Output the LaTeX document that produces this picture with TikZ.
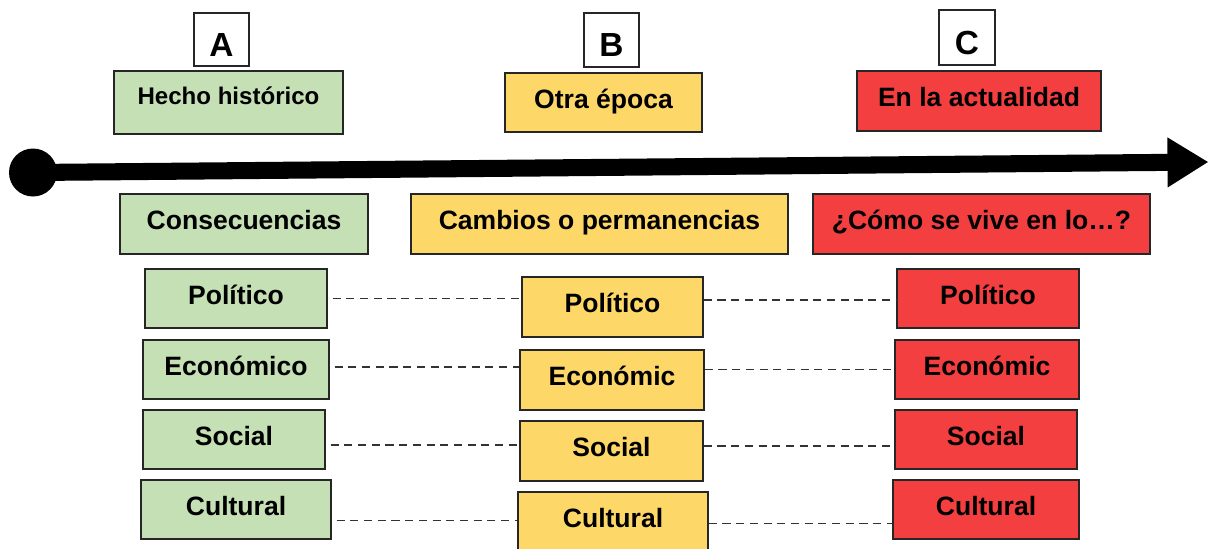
\documentclass[tikz,border=0pt]{standalone}
\usepackage{fontspec}
\setmainfont{Liberation Sans}
\usetikzlibrary{arrows.meta}

\definecolor{verde}{HTML}{C5E0B4}
\definecolor{amarillo}{HTML}{FDD868}
\definecolor{rojo}{HTML}{F33F3F}

\tikzset{
  caja/.style={draw=black!85, line width=0.8pt, align=center, inner sep=0pt,
    font=\bfseries\fontsize{15.1}{18}\selectfont,
    text height=0.75em, text depth=0.12em},
  letra/.style={caja, fill=white, font=\bfseries\fontsize{19}{22}\selectfont,
    text height=19pt, text depth=0pt},
  enlace/.style={black!80, line width=0.9pt, dash pattern=on 4.6pt off 3.2pt}
}

\begin{document}
\begin{tikzpicture}
		\useasboundingbox (0,0) rectangle (24.2,-10.96);

		% Letras
		\node[letra, minimum width=1.1cm, minimum height=1.06cm] (la) at (4.43,-0.79) {A};
		\node[letra, minimum width=1.1cm, minimum height=1.08cm] (lb) at (12.23,-0.80) {B};
		\node[letra, minimum width=1.12cm, minimum height=1.1cm] (lc) at (19.34,-0.75) {C};

		% Titulos sobre la linea
		\node[caja, fill=verde, minimum width=4.58cm, minimum height=1.26cm, text depth=0.55em,
		  font=\bfseries\fontsize{13.7}{16}\selectfont] (hecho) at (4.57,-2.05) {Hecho histórico};
		\node[caja, fill=amarillo, minimum width=3.94cm, minimum height=1.18cm] (otra) at (12.07,-2.05) {Otra época};
		\node[caja, fill=rojo, minimum width=4.88cm, minimum height=1.2cm] (actual) at (19.58,-2.02) {En la actualidad};

		% Linea de tiempo
		\coordinate (t0) at (0.66,-3.45);
		\coordinate (t1) at (24.17,-3.24);
		\fill (t0) circle (0.48);
		\draw[line width=9.7pt, -{Triangle[length=8.2mm, width=9.4mm]}] (t0) -- (t1);

		% Encabezados de columnas
		\node[caja, fill=verde, minimum width=4.96cm, minimum height=1.2cm] (cons) at (4.88,-4.48) {Consecuencias};
		\node[caja, fill=amarillo, minimum width=7.54cm, minimum height=1.2cm] (camb) at (11.99,-4.48) {Cambios o permanencias};
		\node[caja, fill=rojo, minimum width=6.74cm, minimum height=1.2cm] (como) at (19.63,-4.48) {¿Cómo se vive en lo…?};

		% Columna verde
		\node[caja, fill=verde, minimum width=3.64cm, minimum height=1.18cm] (g1) at (4.72,-5.97) {Político};
		\node[caja, fill=verde, minimum width=3.72cm, minimum height=1.18cm] (g2) at (4.72,-7.39) {Económico};
		\node[caja, fill=verde, minimum width=3.64cm, minimum height=1.18cm] (g3) at (4.68,-8.79) {Social};
		\node[caja, fill=verde, minimum width=3.8cm, minimum height=1.18cm] (g4) at (4.72,-10.19) {Cultural};

		% Columna amarilla
		\node[caja, fill=amarillo, minimum width=3.62cm, minimum height=1.2cm] (y1) at (12.25,-6.14) {Político};
		\node[caja, fill=amarillo, minimum width=3.68cm, minimum height=1.2cm] (y2) at (12.24,-7.60) {Económic};
		\node[caja, fill=amarillo, minimum width=3.66cm, minimum height=1.2cm] (y3) at (12.23,-9.02) {Social};
		\node[caja, fill=amarillo, minimum width=3.8cm, minimum height=1.2cm] (y4) at (12.26,-10.44) {Cultural};

		% Columna roja
		\node[caja, fill=rojo, minimum width=3.64cm, minimum height=1.18cm] (r1) at (19.76,-5.97) {Político};
		\node[caja, fill=rojo, minimum width=3.68cm, minimum height=1.18cm] (r2) at (19.74,-7.39) {Económic};
		\node[caja, fill=rojo, minimum width=3.64cm, minimum height=1.18cm] (r3) at (19.72,-8.79) {Social};
		\node[caja, fill=rojo, minimum width=3.72cm, minimum height=1.18cm] (r4) at (19.72,-10.19) {Cultural};

		% Enlaces punteados
		\foreach \i/\a/\b in {1/0/-1,2/1.4/0,3/-3.1/-3.7,4/-6.3/-8} {
		  \draw[enlace] ([xshift=2.8pt,yshift=\a pt]g\i.east) -- ([yshift=\a pt]g\i.east -| y\i.west);
		  \draw[enlace] ([yshift=\b pt]r\i.west -| y\i.east) -- ([yshift=\b pt]r\i.west);
		}
	\end{tikzpicture}
\end{document}
